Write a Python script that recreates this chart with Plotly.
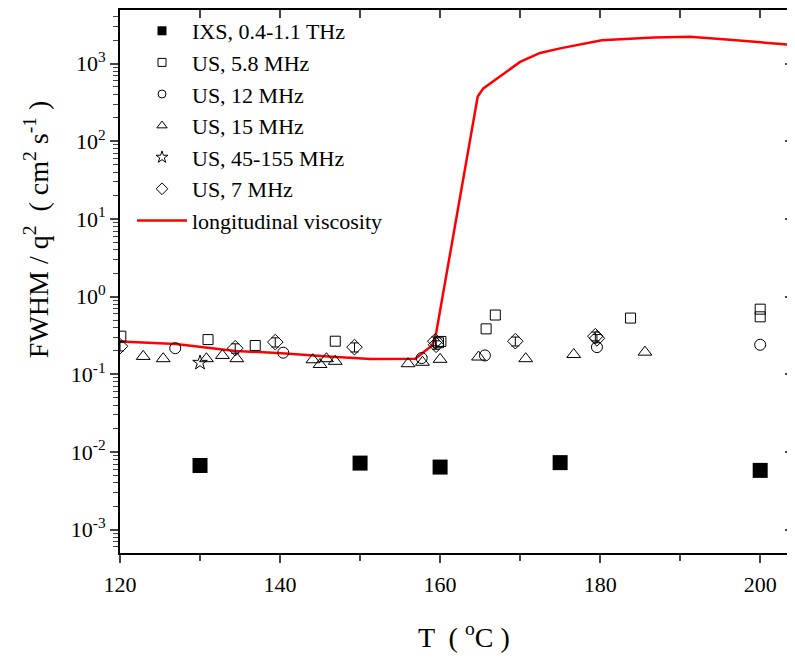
import plotly.graph_objects as go

# ---------------- data ----------------
ixs_T = [130, 150, 160, 175, 200]
ixs_v = [6.7e-3, 7.2e-3, 6.4e-3, 7.3e-3, 5.8e-3]

us58_T = [120.1, 131.0, 136.9, 146.9, 159.8, 160.1, 165.75, 166.9, 183.8, 200.0, 200.0]
us58_v = [0.31, 0.28, 0.235, 0.267, 0.255, 0.265, 0.385, 0.58, 0.53, 0.69, 0.55]

us12_T = [126.9, 140.4, 157.7, 165.6, 179.6, 200.0]
us12_v = [0.217, 0.19, 0.162, 0.175, 0.224, 0.24]

us15_T = [122.9, 125.4, 130.8, 132.8, 134.6, 144.1, 145.0, 145.8, 146.9,
          156.0, 157.8, 160.0, 164.8, 170.7, 176.7, 185.6]
us15_v = [0.17, 0.159, 0.159, 0.175, 0.159, 0.154, 0.134, 0.159, 0.147,
          0.137, 0.143, 0.156, 0.167, 0.159, 0.18, 0.193]

us45_T = [130.0]
us45_v = [0.141]

us7_T = [120.0, 134.4, 139.4, 149.3, 159.4, 159.5, 169.4, 179.4, 179.6]
us7_v = [0.23, 0.217, 0.26, 0.224, 0.267, 0.24, 0.267, 0.31, 0.29]
us7_err = [0.03, 0.03, 0.035, 0.03, 0.035, 0.03, 0.035, 0.04, 0.035]

visc_T = [120, 127, 134.4, 140.2, 146, 151.3, 156.9, 157.7, 159, 159.5,
          164.7, 165.4, 170, 172.5, 175, 180.2, 186.7, 191.2, 192.9, 194.2, 195.8, 205]
visc_v = [0.265, 0.245, 0.2, 0.187, 0.17, 0.158, 0.159, 0.184, 0.235, 0.335,
          378, 480, 1050, 1370, 1570, 2000, 2175, 2220, 2155, 2075, 2050, 1700]

y_tick_vals = [1e-3, 1e-2, 1e-1, 1e0, 1e1, 1e2, 1e3]
y_tick_text = ["10<sup>-3</sup>", "10<sup>-2</sup>", "10<sup>-1</sup>", "10<sup>0</sup>",
               "10<sup>1</sup>", "10<sup>2</sup>", "10<sup>3</sup>"]
x_tick_vals = [120, 140, 160, 180, 200]

legend_names = ["IXS, 0.4-1.1 THz", "US, 5.8 MHz", "US, 12 MHz", "US, 15 MHz",
                "US, 45-155 MHz", "US, 7 MHz", "longitudinal viscosity"]

# ---------------- figure ----------------
FONT = "Liberation Serif"
X_RANGE = [120, 204.1]
Y_RANGE = [-3.3, 3.69]

W, H = 787, 651
ML, MR, MT, MB = 112, 2, 0, 106
PW, PH = W - ML - MR, H - MT - MB

fig = go.Figure()

open_line = dict(color="black", width=1)

fig.add_trace(go.Scatter(x=visc_T, y=visc_v, mode="lines",
                         line=dict(color="#ff0000", width=2.5), showlegend=False))
fig.add_trace(go.Scatter(x=ixs_T, y=ixs_v, mode="markers", showlegend=False,
                         marker=dict(symbol="square", size=15, color="black")))
fig.add_trace(go.Scatter(x=us58_T, y=us58_v, mode="markers", showlegend=False,
                         marker=dict(symbol="square-open", size=10, color="black",
                                     line=open_line)))
fig.add_trace(go.Scatter(x=us12_T, y=us12_v, mode="markers", showlegend=False,
                         marker=dict(symbol="circle-open", size=11, color="black",
                                     line=open_line)))
fig.add_trace(go.Scatter(x=us15_T, y=us15_v, mode="markers", showlegend=False,
                         marker=dict(symbol="triangle-up-open", size=12, color="black",
                                     line=open_line)))
fig.add_trace(go.Scatter(x=us45_T, y=us45_v, mode="markers", showlegend=False,
                         marker=dict(symbol="star-open", size=11, color="black",
                                     line=open_line)))
fig.add_trace(go.Scatter(x=us7_T, y=us7_v, mode="markers", showlegend=False,
                         error_y=dict(type="data", array=us7_err, color="black",
                                      thickness=1, width=4),
                         marker=dict(symbol="diamond-open", size=12, color="black",
                                     line=open_line)))

# legend-only entries (smaller symbols as in the reference legend)
leg_markers = [
    dict(symbol="square", size=9, color="black"),
    dict(symbol="square-open", size=8, color="black", line=open_line),
    dict(symbol="circle-open", size=8, color="black", line=open_line),
    dict(symbol="triangle-up-open", size=9, color="black", line=open_line),
    dict(symbol="star-open", size=9, color="black", line=open_line),
    dict(symbol="diamond-open", size=9, color="black", line=open_line),
]
for i, name in enumerate(legend_names[:6]):
    fig.add_trace(go.Scatter(x=[None], y=[None], mode="markers", name=name,
                             marker=leg_markers[i], legendgroup=f"g{i}"))
fig.add_trace(go.Scatter(x=[None], y=[None], mode="lines", name=legend_names[6],
                         line=dict(color="#ff0000", width=2.5), legendgroup="g6"))

# dummy trace for mirrored (inside-tick) axes
fig.add_trace(go.Scatter(x=[None], y=[None], xaxis="x2", yaxis="y2",
                         showlegend=False, hoverinfo="skip"))

minor_vals = [k * 10 ** e for e in range(-4, 4) for k in range(2, 10)]

fig.update_layout(
    width=W, height=H,
    margin=dict(l=ML, r=MR, t=MT, b=MB, pad=0),
    paper_bgcolor="white", plot_bgcolor="white",
    font=dict(family=FONT, size=22, color="black"),
    showlegend=True,
    legend=dict(x=12 / PW, y=1.0, xanchor="left", yanchor="top",
                bgcolor="rgba(0,0,0,0)", font=dict(family=FONT, size=22),
                tracegroupgap=0, traceorder="grouped", itemwidth=50),
    xaxis=dict(range=X_RANGE, tickvals=x_tick_vals, ticks="outside", ticklen=8,
               tickwidth=1.5, showline=True, linewidth=2, linecolor="black",
               mirror=True, showgrid=False, zeroline=False,
               minor=dict(tickvals=[130, 150, 170, 190], ticks="outside",
                          ticklen=6, tickwidth=1.5),
               tickfont=dict(family=FONT, size=22), ticklabelstandoff=3),
    yaxis=dict(type="log", range=Y_RANGE, tickvals=y_tick_vals, ticktext=y_tick_text,
               ticks="outside", ticklen=8, tickwidth=1.5, showline=True, linewidth=2,
               linecolor="black", mirror=True, showgrid=False, zeroline=False,
               minor=dict(tickvals=minor_vals, ticks="outside", ticklen=5, tickwidth=1),
               tickfont=dict(family=FONT, size=22)),
    xaxis2=dict(range=X_RANGE, overlaying="x", side="top", anchor="y",
                tickvals=[130, 140, 150, 160, 170, 180, 190, 200],
                ticks="inside", ticklen=8, tickwidth=1.5, showticklabels=False,
                showline=False, showgrid=False, zeroline=False),
    yaxis2=dict(type="log", range=Y_RANGE, overlaying="y", side="right", anchor="x",
                tickvals=y_tick_vals, ticks="inside", ticklen=8, tickwidth=1.5,
                showticklabels=False, showline=False, showgrid=False, zeroline=False,
                minor=dict(tickvals=minor_vals, ticks="inside", ticklen=4, tickwidth=1)),
    annotations=[
        dict(text="FWHM / q<sup>2</sup>  ( cm<sup>2</sup> s<sup>-1</sup> )",
             textangle=-90, xref="paper", yref="paper",
             x=(28 - ML) / PW, y=(PH - 220) / PH,
             xanchor="center", yanchor="middle", showarrow=False,
             font=dict(family=FONT, size=28)),
        dict(text="T  ( <sup>o</sup>C )", xref="paper", yref="paper",
             x=(456 - ML) / PW, y=(PH - 628) / PH,
             xanchor="center", yanchor="middle", showarrow=False,
             font=dict(family=FONT, size=28)),
    ],
)

fig.write_html("out.html")
